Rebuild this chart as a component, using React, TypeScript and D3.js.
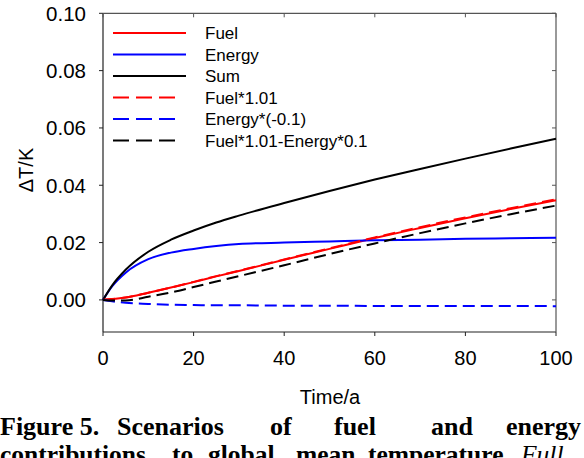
import React from "react";
import * as d3 from "d3";

const time = [0, 2, 5, 10, 15, 20, 25, 30, 40, 50, 60, 70, 80, 90, 100];
const fuel = [0, 0.0003, 0.0008, 0.0025, 0.0043, 0.0062, 0.0082, 0.0101, 0.014, 0.0178, 0.0216, 0.0251, 0.0285, 0.0317, 0.0348];
const energy = [0, 0.0047, 0.0095, 0.0142, 0.0165, 0.0178, 0.0188, 0.0195, 0.02, 0.0204, 0.0208, 0.021, 0.0213, 0.0215, 0.0217];
const sum = [0, 0.005, 0.0105, 0.0168, 0.021, 0.0242, 0.027, 0.0294, 0.0338, 0.038, 0.042, 0.0457, 0.0493, 0.0528, 0.0562];
const fuel101 = [0, 0.0003, 0.0008, 0.0025, 0.0043, 0.0063, 0.0083, 0.0102, 0.0141, 0.018, 0.0218, 0.0254, 0.0288, 0.032, 0.0351];
const energyNeg = [0, -0.0005, -0.001, -0.0014, -0.0017, -0.0018, -0.0019, -0.0019, -0.002, -0.002, -0.0021, -0.0021, -0.0021, -0.0021, -0.0022];
const combined = [0, -0.0002, -0.0002, 0.0011, 0.0026, 0.0045, 0.0064, 0.0083, 0.0121, 0.016, 0.0197, 0.0233, 0.0267, 0.0299, 0.0329];

const xTicks = [0, 20, 40, 60, 80, 100];
const yTicks = [0, 0.02, 0.04, 0.06, 0.08, 0.1];

const seriesNames = ["Fuel", "Energy", "Sum", "Fuel*1.01", "Energy*(-0.1)", "Fuel*1.01-Energy*0.1"];
const seriesData = [fuel, energy, sum, fuel101, energyNeg, combined];
const seriesColors = ["#ff0000", "#0000ff", "#000000", "#ff0000", "#0000ff", "#000000"];
const seriesDashed = [false, false, false, true, true, true];

const captionLine1 = [
  { w: "Figure 5.", x: 0 },
  { w: "Scenarios", x: 117 },
  { w: "of", x: 270 },
  { w: "fuel", x: 334 },
  { w: "and", x: 431 },
  { w: "energy", x: 506 },
];
const captionLine2 = [
  { w: "contributions", x: 0, it: false },
  { w: "to", x: 172, it: false },
  { w: "global", x: 208, it: false },
  { w: "mean", x: 296, it: false },
  { w: "temperature.", x: 368, it: false },
  { w: "Full", x: 521, it: true },
];

export default function App() {
  const W = 584, H = 458;
  const left = 103, right = 556, top = 13.3, bottom = 332;
  const x = d3.scaleLinear().domain([0, 100]).range([left, right]);
  const y = d3.scaleLinear().domain([-0.0112, 0.1]).range([bottom, top]);
  const line = d3
    .line<number>()
    .x((_, i) => x(time[i]))
    .y((d) => y(d))
    .curve(d3.curveMonotoneX);
  const sans = "'Liberation Sans', Arial, sans-serif";
  const serif = "'Liberation Serif', 'Times New Roman', serif";
  const legX1 = 113, legX2 = 186, legTextX = 205;
  const legY = (i: number) => 33 + i * 21.5;

  return (
    <svg width={W} height={H} style={{ position: "absolute", left: 0, top: 0, background: "#fff" }}>
      <rect x={0} y={0} width={W} height={H} fill="#fff" />
      {/* frame */}
      <g stroke="#222" strokeWidth={1.2} fill="none">
        <line x1={left} y1={top} x2={left} y2={bottom} />
        <line x1={left} y1={bottom} x2={right} y2={bottom} />
        <line x1={left} y1={top} x2={right} y2={top} stroke="#555" />
        <line x1={right} y1={top} x2={right} y2={bottom} stroke="#555" />
      </g>
      {/* y ticks */}
      {yTicks.map((t) => (
        <g key={"y" + t}>
          <line x1={left - 4} x2={left} y1={y(t)} y2={y(t)} stroke="#222" strokeWidth={1} />
          <line x1={right - 4} x2={right} y1={y(t)} y2={y(t)} stroke="#555" strokeWidth={1} />
          <text x={86} y={y(t)} dy="0.36em" textAnchor="end" fontFamily={sans} fontSize={20.5} fill="#000">
            {d3.format(".2f")(t)}
          </text>
        </g>
      ))}
      {/* x ticks */}
      {xTicks.map((t) => (
        <g key={"x" + t}>
          <line x1={x(t)} x2={x(t)} y1={bottom} y2={bottom + 4} stroke="#222" strokeWidth={1} />
          <line x1={x(t)} x2={x(t)} y1={top} y2={top + 4} stroke="#555" strokeWidth={1} />
          <text x={x(t)} y={365} textAnchor="middle" fontFamily={sans} fontSize={20} fill="#000">
            {t}
          </text>
        </g>
      ))}
      <text x={330} y={404} textAnchor="middle" fontFamily={sans} fontSize={20} fill="#000">
        Time/a
      </text>
      <text
        transform={`translate(33,170) rotate(-90)`}
        textAnchor="middle"
        fontFamily={sans}
        fontSize={20}
        fill="#000"
      >
        ΔT/K
      </text>
      {/* series */}
      <g fill="none">
        {seriesData.map((s, i) => (
          <path
            key={"s" + i}
            d={line(s) || ""}
            stroke={seriesColors[i]}
            strokeWidth={2}
            strokeDasharray={seriesDashed[i] ? "12,6" : undefined}
          />
        ))}
      </g>
      {/* legend */}
      {seriesNames.map((n, i) => (
        <g key={"l" + i}>
          <line
            x1={legX1}
            x2={seriesDashed[i] ? legX1 + 64 : legX2}
            y1={legY(i)}
            y2={legY(i)}
            stroke={seriesColors[i]}
            strokeWidth={2}
            strokeDasharray={seriesDashed[i] ? "16,7" : undefined}
          />
          <text x={legTextX} y={legY(i)} dy="0.36em" fontFamily={sans} fontSize={17} fill="#000">
            {n}
          </text>
        </g>
      ))}
      {/* caption */}
      {captionLine1.map((c) => (
        <text key={"c1" + c.w} x={c.x} y={435} fontFamily={serif} fontWeight="bold" fontSize={26} fill="#000">
          {c.w}
        </text>
      ))}
      {captionLine2.map((c) => (
        <text
          key={"c2" + c.w}
          x={c.x}
          y={463}
          fontFamily={serif}
          fontWeight={c.it ? "normal" : "bold"}
          fontStyle={c.it ? "italic" : "normal"}
          fontSize={25.5}
          fill="#000"
        >
          {c.w}
        </text>
      ))}
    </svg>
  );
}
